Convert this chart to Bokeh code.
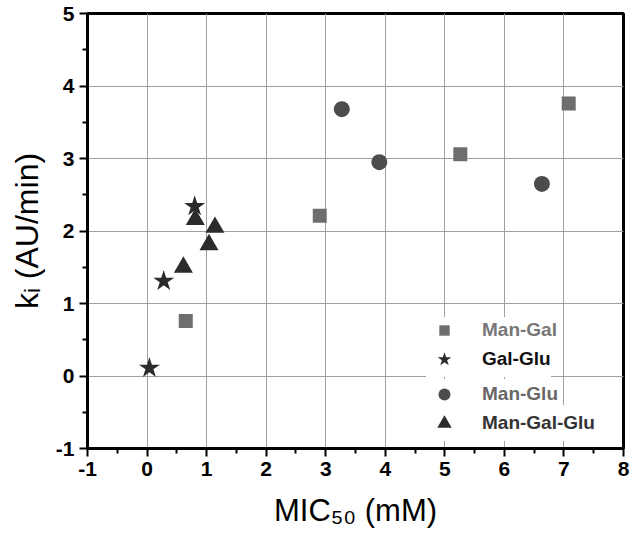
from bokeh.plotting import figure
from bokeh.models import Range1d, FixedTicker, Legend, LegendItem
from bokeh.embed import file_html
from bokeh.resources import INLINE

# ---- data ----
man_gal_x = [0.65, 2.90, 5.26, 7.08]
man_gal_y = [0.76, 2.21, 3.06, 3.76]

gal_glu_x = [0.04, 0.28, 0.80]
gal_glu_y = [0.11, 1.31, 2.34]

man_glu_x = [3.27, 3.90, 6.63]
man_glu_y = [3.68, 2.95, 2.65]

mgg_x = [0.61, 0.81, 1.04, 1.14]
mgg_y = [1.50, 2.16, 1.81, 2.05]

x_ticks = [-1, 0, 1, 2, 3, 4, 5, 6, 7, 8]
x_minor = [-0.5, 0.5, 1.5, 2.5, 3.5, 4.5, 5.5, 6.5, 7.5]
y_ticks = [-1, 0, 1, 2, 3, 4, 5]
y_minor = [-0.5, 0.5, 1.5, 2.5, 3.5, 4.5]

x_title = "MIC\u2085\u2080 (mM)"
y_title = "k\u1d62 (AU/min)"

FONT = "Liberation Sans"
W, H = 632, 545
LEFT, RIGHT, TOP, BOTTOM = 87, 9, 13, 97

p = figure(width=W, height=H, output_backend="svg", toolbar_location=None,
           x_range=Range1d(-1, 8), y_range=Range1d(-1, 5),
           min_border_left=LEFT, min_border_right=RIGHT, min_border_top=TOP,
           min_border_bottom=BOTTOM)

p.background_fill_color = "white"
p.border_fill_color = "white"
p.outline_line_color = "black"
p.outline_line_width = 3

p.xaxis.ticker = FixedTicker(ticks=x_ticks, minor_ticks=x_minor)
p.yaxis.ticker = FixedTicker(ticks=y_ticks, minor_ticks=y_minor)
for ax in (p.xaxis, p.yaxis):
    ax.axis_line_width = 3
    ax.axis_line_color = "black"
    ax.major_tick_in = 0
    ax.major_tick_out = 8
    ax.minor_tick_in = 0
    ax.minor_tick_out = 5
    ax.major_tick_line_width = 2
    ax.minor_tick_line_width = 2
    ax.major_label_text_font = FONT
    ax.major_label_text_font_style = "bold"
    ax.major_label_text_font_size = "21px"
    ax.major_label_text_color = "black"
    ax.major_label_overrides = {-1: "-1"}
    ax.axis_label_text_font = FONT
    ax.axis_label_text_font_style = "normal"
    ax.axis_label_text_color = "black"
p.xaxis.major_label_standoff = 5
p.yaxis.major_label_standoff = 5
p.xaxis.axis_label = x_title
p.yaxis.axis_label = y_title
p.xaxis.axis_label_text_font_size = "31px"
p.yaxis.axis_label_text_font_size = "32px"
p.xaxis.axis_label_standoff = 14
p.yaxis.axis_label_standoff = 8

p.grid.grid_line_color = "#a0a0a0"
p.grid.grid_line_width = 1

r_mg = p.scatter(man_gal_x, man_gal_y, marker="square", size=14,
                 fill_color="#6e6e6e", line_color=None)
r_mgg = p.scatter(mgg_x, mgg_y, marker="triangle", size=19,
                  fill_color="#2b2b2b", line_color=None)
r_gg = p.scatter(gal_glu_x, gal_glu_y, marker="star", size=22,
                 fill_color="#2b2b2b", line_color=None)
r_mglu = p.scatter(man_glu_x, man_glu_y, marker="circle", size=16,
                   fill_color="#4c4c4c", line_color=None)

# legend rows: (label, renderer, text colour, glyph box, centre y in px)
PAD = 4
GLYPH_CX = 448
TEXT_X = 486
frame_bottom = H - BOTTOM
legend_specs = [
    ("Man-Gal", r_mg, "#777777", 26, 326),
    ("Gal-Glu", r_gg, "#111111", 36, 355),
    ("Man-Glu", r_mglu, "#666666", 30, 390),
    ("Man-Gal-Glu", r_mgg, "#333333", 36, 419),
]
for name, rend, col, g, cy in legend_specs:
    lx = GLYPH_CX - g / 2 - PAD - LEFT
    ly = frame_bottom - (cy + g / 2 + PAD)
    lg = Legend(items=[LegendItem(label=name, renderers=[rend])],
                location=(lx, ly), margin=0, padding=PAD,
                glyph_width=g, glyph_height=g, label_height=20,
                label_standoff=int(TEXT_X - (GLYPH_CX + g / 2)), spacing=0,
                label_text_font=FONT, label_text_font_style="bold",
                label_text_font_size="19px", label_text_color=col,
                background_fill_color="white", background_fill_alpha=1.0,
                border_line_color=None)
    p.add_layout(lg)

open("out.html", "w").write(file_html(p, INLINE))
